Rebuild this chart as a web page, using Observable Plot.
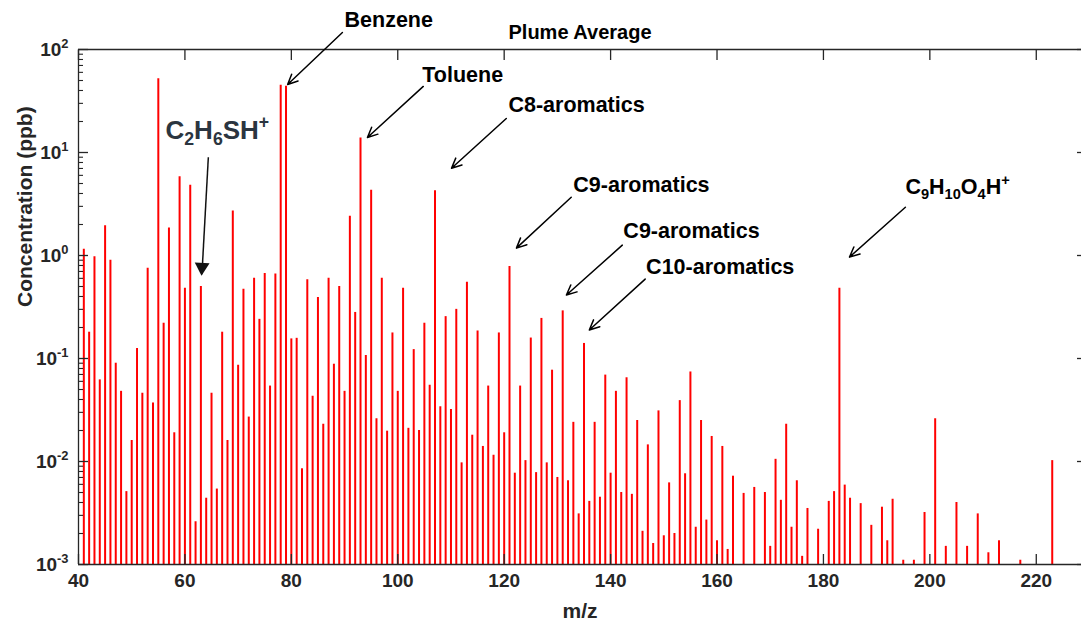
<!DOCTYPE html>
<html><head><meta charset="utf-8">
<script src="https://cdn.jsdelivr.net/npm/d3@7"></script>
<script src="https://cdn.jsdelivr.net/npm/@observablehq/plot@0.6"></script>
<style>
html,body{margin:0;padding:0;background:#fff;}
#chart svg{display:block;}
</style></head><body><div id="chart"></div>
<script>
// ---- data: m/z and plume-average concentration (ppb)
const mz = [41,42,43,44,45,46,47,48,49,50,51,52,53,54,55,56,57,58,59,60,
  61,62,63,64,65,66,67,68,69,70,71,72,73,74,75,76,77,78,79,80,
  81,82,83,84,85,86,87,88,89,90,91,92,93,94,95,96,97,98,99,100,
  101,102,103,104,105,106,107,108,109,110,111,112,113,114,115,116,117,118,119,120,
  121,122,123,124,125,126,127,128,129,130,131,132,133,134,135,136,137,138,139,140,
  141,142,143,144,145,146,147,148,149,150,151,152,153,154,155,156,157,158,159,160,
  161,162,163,165,167,169,170,171,172,173,174,175,176,177,179,181,182,183,184,185,
  187,189,191,192,193,195,197,199,201,203,205,207,209,211,213,217,223];
const conc = [1.15,0.18,0.97,0.062,1.95,0.9,0.09,0.048,0.0051,0.016,0.125,0.046,0.75,0.037,52,0.22,1.85,0.019,5.8,0.48,
  4.8,0.0026,0.5,0.0044,0.046,0.0054,0.18,0.016,2.7,0.086,0.47,0.027,0.6,0.24,0.67,0.054,0.66,45,44,0.155,
  0.157,0.0085,0.58,0.043,0.39,0.023,0.6,0.088,0.5,0.048,2.4,0.28,13.8,0.107,4.3,0.026,0.6,0.0197,0.177,0.048,
  0.48,0.021,0.122,0.02,0.22,0.055,4.25,0.034,0.255,0.032,0.3,0.0097,0.55,0.018,0.185,0.014,0.054,0.0115,0.177,0.019,
  0.78,0.0077,0.054,0.0102,0.158,0.0078,0.245,0.0097,0.077,0.007,0.29,0.0065,0.024,0.0031,0.14,0.0041,0.024,0.0045,0.069,0.0077,
  0.048,0.005,0.065,0.0048,0.025,0.0021,0.0145,0.0016,0.031,0.0019,0.0062,0.002,0.039,0.0076,0.074,0.0023,0.025,0.0027,0.0175,0.0017,
  0.014,0.0014,0.0072,0.0049,0.0056,0.005,0.0015,0.0105,0.0042,0.023,0.0023,0.0065,0.0012,0.0035,0.0022,0.0041,0.0051,0.48,0.0059,0.0044,
  0.0039,0.0024,0.0036,0.0017,0.0043,0.0011,0.0011,0.0032,0.026,0.0015,0.004,0.0015,0.0031,0.0013,0.0017,0.0011,0.0102];

// ---- axes / ticks
const xTicks = [40,60,80,100,120,140,160,180,200,220];
const yTicks = [0.001,0.01,0.1,1,10,100];
const yTickLabels = ["10^{-3}","10^{-2}","10^{-1}","10^{0}","10^{1}","10^{2}"];
const titleText = "Plume Average";
const xLabel = "m/z";
const yLabel = "Concentration (ppb)";

// ---- annotations (data coordinates: m/z, ppb)
const annLabels = ["Benzene","Toluene","C8-aromatics","C9-aromatics","C9-aromatics","C10-aromatics"];
const annX = [98.3,112.2,133.6,145.8,155.2,160.6];
const annY = [191,57,28.6,4.81,1.71,0.78];
const arrowX1 = [89.6,104.8,120.4,132.6,142.2,146.5,195.4];
const arrowY1 = [146,43.8,21.4,3.68,1.26,0.59,2.94];
const arrowX2 = [79.3,94.3,110.1,122.3,131.7,136.0,184.9];
const arrowY2 = [45.8,14.0,7.03,1.18,0.413,0.189,0.965];
const formulaLabels = ["C_{9}H_{10}O_{4}H^{+}"];
const formulaX = [195.4];
const formulaY = [4.6];
const thiolLabel = ["C_{2}H_{6}SH^{+}"];
const thiolX = [56.35], thiolY = [16.4];
const thiolArrowX1 = [64.4], thiolArrowY1 = [8.98], thiolArrowX2 = [63.2], thiolArrowY2 = [0.66];

const data = mz.map((m, i) => ({mz: m, c: conc[i]}));
const anns = annLabels.map((t, i) => ({t, x: annX[i], y: annY[i]}));
const arrows = arrowX1.map((x1, i) => ({x1, y1: arrowY1[i], x2: arrowX2[i], y2: arrowY2[i]}));
const formulas = formulaLabels.map((t, i) => ({t, x: formulaX[i], y: formulaY[i]}));
const thiol = thiolLabel.map((t, i) => ({t, x: thiolX[i], y: thiolY[i]}));
const thiolArrow = thiolArrowX1.map((x1, i) => ({x1, y1: thiolArrowY1[i], x2: thiolArrowX2[i], y2: thiolArrowY2[i]}));

const yMin = yTicks[0], yMax = yTicks[yTicks.length - 1];
const minorTicks = [];
for (const d of yTicks.slice(0, -1)) for (let k = 2; k <= 9; k++) minorTicks.push(d * k);

const ink = "#262626";
const font = "'Liberation Sans', Arial, Helvetica, sans-serif";

const chart = Plot.plot({
  width: 1081, height: 621,
  marginLeft: 78, marginRight: 0, marginTop: 49, marginBottom: 57,
  style: {fontFamily: font, background: "#fff", overflow: "visible"},
  x: {type: "linear", domain: [40, 228.5]},
  y: {type: "log", domain: [yMin, yMax]},
  marks: [
    Plot.ruleX(data, {x: "mz", y1: yMin, y2: "c", stroke: "#ff0000", strokeWidth: 2}),
    // frame
    Plot.ruleY([yMin], {stroke: ink, strokeWidth: 1.3}),
    Plot.ruleY([yMax], {stroke: ink, strokeWidth: 1.3}),
    Plot.ruleX([40], {stroke: ink, strokeWidth: 1.3}),
    // ticks (inward)
    Plot.axisX(xTicks, {anchor: "bottom", tickSize: -10, fill: "none", stroke: ink, strokeWidth: 1.3, label: null}),
    Plot.axisX(xTicks, {anchor: "top", tickSize: -10, fill: "none", stroke: ink, strokeWidth: 1.3, label: null}),
    Plot.axisY(yTicks, {anchor: "left", tickSize: -10, fill: "none", stroke: ink, strokeWidth: 1.3, label: null}),
    Plot.axisY(minorTicks, {anchor: "left", tickSize: -5, fill: "none", stroke: ink, strokeWidth: 1.1, label: null}),
    Plot.axisY(yTicks, {anchor: "right", tickSize: -5, fill: "none", stroke: ink, strokeWidth: 1.3, label: null}),
    // tick labels
    Plot.axisX(xTicks, {anchor: "bottom", tickSize: 0, tickPadding: 9, fontSize: 19, fontWeight: "bold", fill: ink, label: null, tickFormat: d => String(d)}),
    Plot.axisY(yTicks, {anchor: "left", tickSize: 0, tickPadding: 10, fontSize: 19, fontWeight: "bold", fill: ink, label: null,
      tickFormat: d => yTickLabels[yTicks.indexOf(d)]}),
    // axis labels and title
    Plot.text([yLabel], {frameAnchor: "left", rotate: -90, dx: -53, fontSize: 21, fontWeight: "bold", fill: ink}),
    Plot.text([xLabel], {frameAnchor: "bottom", lineAnchor: "middle", dy: 47, fontSize: 21, fontWeight: "bold", fill: ink}),
    Plot.text([titleText], {frameAnchor: "top", lineAnchor: "middle", dy: -17, fontSize: 20, fontWeight: "bold", fill: "#000"}),
    // annotations
    Plot.arrow(arrows, {x1: "x1", y1: "y1", x2: "x2", y2: "y2", stroke: "#000", strokeWidth: 1.5, headLength: 11, headAngle: 50}),
    Plot.text(anns, {x: "x", y: "y", text: "t", fontSize: 21.5, fontWeight: "bold", fill: "#000"}),
    Plot.text(formulas, {x: "x", y: "y", text: "t", textAnchor: "start", fontSize: 21.5, fontWeight: "bold", fill: "#000"}),
    Plot.link(thiolArrow, {x1: "x1", y1: "y1", x2: "x2", y2: "y2", stroke: "#111", strokeWidth: 1.5}),
    Plot.dot(thiolArrow, {x: "x2", y: "y2", symbol: "triangle", r: 5.5, rotate: 183, dy: -7, fill: "#111", stroke: "none"}),
    Plot.text(thiol, {x: "x", y: "y", text: "t", textAnchor: "start", fontSize: 26, fontWeight: "bold", fill: "#2b3540"})
  ]
});
document.getElementById("chart").appendChild(chart);

// turn ^{..} and _{..} markup into real super/subscript tspans
function richify(el) {
  const s = el.textContent;
  if (!/[_^]\{/.test(s)) return;
  const fs = parseFloat(getComputedStyle(el).fontSize) || 16;
  const re = /([_^])\{([^}]*)\}|([^_^]+)/g;
  el.textContent = "";
  let cur = 0, m;
  while ((m = re.exec(s))) {
    const t = document.createElementNS("http://www.w3.org/2000/svg", "tspan");
    let off = 0;
    if (m[1]) {
      t.textContent = m[2];
      t.setAttribute("font-size", (fs * 0.68).toFixed(1));
      off = m[1] === "_" ? fs * 0.24 : -fs * 0.42;
    } else t.textContent = m[3];
    if (off !== cur) t.setAttribute("dy", (off - cur).toFixed(1));
    cur = off;
    el.appendChild(t);
  }
}
chart.querySelectorAll("text").forEach(richify);
</script></body></html>
